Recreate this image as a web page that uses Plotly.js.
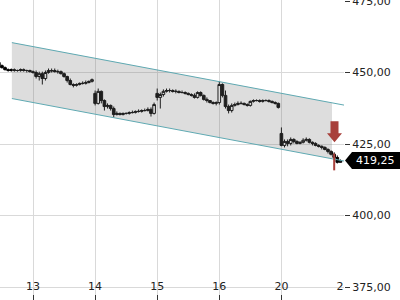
<!DOCTYPE html>
<html>
<head>
<meta charset="utf-8">
<script src="https://cdn.plot.ly/plotly-3.0.1.min.js"></script>
<style>html,body{margin:0;padding:0;background:#fff}#chart{width:400px;height:300px}</style>
</head>
<body>
<div id="chart"></div>
<script>
// Session days (tick positions are the first bar of each day)
const dayLabels = ["13", "14", "15", "16", "20", "2\u2007"];
const dayStartBar = [11, 31, 51, 71, 91, 111];

// Intraday OHLC bars
const open = [453.5,452.4,451.7,451.0,450.7,451.0,450.7,450.7,451.0,450.7,450.7,
  450.3,450.0,448.6,449.6,447.9,450.0,450.7,450.7,450.3,450.3,449.6,448.6,447.2,445.8,445.5,445.8,446.2,446.2,446.5,446.9,
  442.7,439.2,443.4,440.2,438.1,438.5,437.4,435.3,435.7,435.3,435.7,435.7,436.0,436.0,436.4,436.4,436.7,436.7,437.1,435.7,
  442.7,441.3,442.3,443.4,443.7,443.7,443.4,443.4,443.0,443.0,442.7,442.3,442.0,441.3,443.0,442.0,440.6,440.2,439.5,439.2,
  439.5,445.8,442.0,438.1,436.7,438.5,438.8,439.2,439.2,438.8,438.5,439.9,440.2,440.2,439.9,440.2,440.2,439.9,439.5,439.2,
  428.7,424.5,425.9,425.2,426.6,425.9,425.2,425.6,426.3,426.6,425.6,425.2,424.5,424.2,423.8,423.1,422.4,421.4,420.3,418.6];
const high = [453.8,452.8,452.1,451.4,451.4,451.4,451.0,451.4,451.4,451.0,451.0,
  450.7,450.7,450.3,450.3,450.7,451.4,451.4,451.4,451.0,450.7,450.0,448.9,447.9,446.2,446.2,446.5,446.9,447.2,447.2,447.9,
  443.7,444.4,443.7,440.6,439.2,438.8,438.1,436.4,436.0,436.0,436.0,436.4,436.7,436.7,437.1,437.1,437.4,437.8,437.8,439.5,
  444.4,443.0,444.1,444.4,444.4,444.1,444.1,443.7,443.7,443.4,443.0,442.7,442.7,443.4,443.4,442.3,441.3,440.2,439.9,439.9,
  446.9,446.2,443.7,438.8,439.2,439.5,439.9,439.9,439.5,439.2,440.2,440.6,440.6,440.6,440.6,440.6,440.6,440.2,439.9,439.5,
  430.8,426.6,426.6,427.3,427.0,426.3,425.9,427.0,427.3,427.0,425.9,425.6,424.9,424.5,424.2,423.5,422.8,422.1,421.0,419.6];
const low = [452.1,451.4,450.7,450.3,450.3,450.3,450.3,450.3,450.3,450.0,450.0,
  449.6,447.9,447.2,445.8,447.2,449.6,450.0,450.0,449.6,449.3,448.2,446.5,445.5,444.8,445.1,445.5,445.8,445.8,446.2,446.5,
  438.5,438.8,439.2,436.7,437.4,436.7,434.3,435.0,435.0,435.0,435.3,435.3,435.7,435.7,436.0,436.0,436.4,436.4,434.6,435.3,
  440.2,437.4,441.6,443.0,443.0,443.0,442.7,442.7,442.7,442.3,442.0,441.6,440.9,440.9,441.6,440.2,439.5,439.2,438.8,438.5,
  438.8,441.3,437.4,435.7,436.0,438.1,438.5,438.8,438.5,438.1,438.1,439.5,439.9,439.5,439.5,439.9,439.5,439.2,438.8,437.4,
  424.2,423.8,424.2,424.5,425.2,424.9,424.9,425.2,425.9,425.2,424.5,424.2,423.8,423.1,422.8,421.7,421.0,420.0,418.2,418.6];
const close = [452.4,451.7,451.0,450.7,451.0,450.7,450.7,451.0,450.7,450.7,450.3,
  450.0,448.6,449.6,447.9,450.0,450.7,450.6,450.3,450.3,449.6,448.6,447.2,445.8,445.5,445.8,446.2,446.2,446.5,446.9,447.5,
  439.2,443.4,440.2,438.1,438.5,437.4,435.3,435.7,435.3,435.7,435.7,436.0,436.0,436.4,436.4,436.7,436.7,437.1,435.7,438.8,
  441.3,442.3,443.4,443.7,443.7,443.4,443.4,443.0,443.0,442.7,442.3,442.0,441.3,443.0,442.0,440.6,440.2,439.5,439.2,439.5,
  445.8,442.0,438.1,436.7,438.5,438.8,439.2,439.2,438.8,438.5,439.9,440.2,440.2,439.9,440.2,440.2,439.9,439.5,439.2,437.8,
  424.5,425.9,425.2,426.6,425.9,425.2,425.6,426.3,426.6,425.6,425.2,424.5,424.2,423.8,423.1,422.4,421.4,420.3,418.6,419.25];
const barIndex = close.map((_, i) => i);

// Trend channel (bar index, price)
const channelFillX = [4.2, 107.3];
const channelFillUpper = [460.45, 439.4];
const channelFillLower = [440.9, 419.85];
const channelLineX = [4.2, 111.2];
const channelUpper = [460.45, 438.6];
const channelLower = [440.9, 419.05];

// Sell signal
const signalBar = 108.1;
const signalArrowTip = 425.6;
const signalWickBar = 108;
const signalWick = [421.7, 415.8];

const lastPrice = close[close.length - 1];
const yTicks = [375, 400, 425, 450, 475];

const font = {family: "DejaVu Sans", size: 11, color: "#222"};
const teal = "#5fa9b2";

const traces = [
  {type: "scatter", mode: "lines", hoverinfo: "skip", showlegend: false,
   x: channelFillX.concat(channelFillX.slice().reverse()),
   y: channelFillUpper.concat(channelFillLower.slice().reverse()),
   fill: "toself", fillcolor: "rgba(120,120,120,0.25)", line: {width: 0}},
  {type: "scatter", mode: "lines", x: channelLineX, y: channelUpper, showlegend: false,
   line: {color: teal, width: 1}},
  {type: "scatter", mode: "lines", x: channelLineX, y: channelLower, showlegend: false,
   line: {color: teal, width: 1}},
  {type: "scatter", mode: "lines", x: [signalWickBar, signalWickBar], y: signalWick, showlegend: false,
   line: {color: "#a8403b", width: 2}},
  {type: "candlestick", x: barIndex, open: open, high: high, low: low, close: close,
   showlegend: false, whiskerwidth: 0,
   increasing: {line: {color: "#000", width: 1}, fillcolor: "#fff"},
   decreasing: {line: {color: "#000", width: 1}, fillcolor: "#000"}}
];

const layout = {
  width: 400, height: 300,
  margin: {l: 0, r: 56, t: 0, b: 0},
  paper_bgcolor: "#fff", plot_bgcolor: "#fff",
  separators: ",.",
  font: font,
  showlegend: false,
  boxgap: 0.15, boxgroupgap: 0,
  xaxis: {
    range: [0.37, 111.16], tickmode: "array", tickvals: dayStartBar, ticktext: dayLabels,
    showgrid: true, gridcolor: "#d9d9d9", gridwidth: 1, zeroline: false, showline: false,
    ticks: "inside", ticklen: 5, tickcolor: "#333", ticklabelposition: "outside",
    ticklabelstandoff: -22, ticklabeloverflow: "allow",
    tickfont: font, rangeslider: {visible: false}, fixedrange: true
  },
  yaxis: {
    side: "right", range: [370.47, 475.35], tickmode: "array", tickvals: yTicks,
    tickformat: ".2f", showgrid: true, gridcolor: "#d9d9d9", gridwidth: 1, zeroline: false,
    showline: false, ticks: "outside", ticklen: 5, tickcolor: "#333", tickfont: font,
    ticklabeloverflow: "allow", fixedrange: true
  },
  shapes: [
    {type: "path", xref: "x", yref: "y", xsizemode: "pixel", ysizemode: "pixel",
     xanchor: signalBar, yanchor: signalArrowTip,
     path: "M 0 0 L -7.5 9 L -4 9 L -4 21 L 4 21 L 4 9 L 7.5 9 Z",
     fillcolor: "#a8403b", line: {width: 0}},
    {type: "path", xref: "paper", yref: "y", xsizemode: "pixel", ysizemode: "pixel",
     xanchor: 1, yanchor: lastPrice,
     path: "M 1 0 L 8 8.5 L 60 8.5 L 60 -8.5 L 8 -8.5 Z",
     fillcolor: "#000", line: {width: 0}, layer: "above"}
  ],
  annotations: [
    {xref: "paper", yref: "y", x: 1, y: lastPrice, xanchor: "left", yanchor: "middle",
     xshift: 10, text: lastPrice.toFixed(2).replace(".", ","), showarrow: false,
     font: {family: "DejaVu Sans", size: 11, color: "#fff"}}
  ]
};

Plotly.newPlot("chart", traces, layout, {displayModeBar: false, staticPlot: true});
</script>
</body>
</html>
